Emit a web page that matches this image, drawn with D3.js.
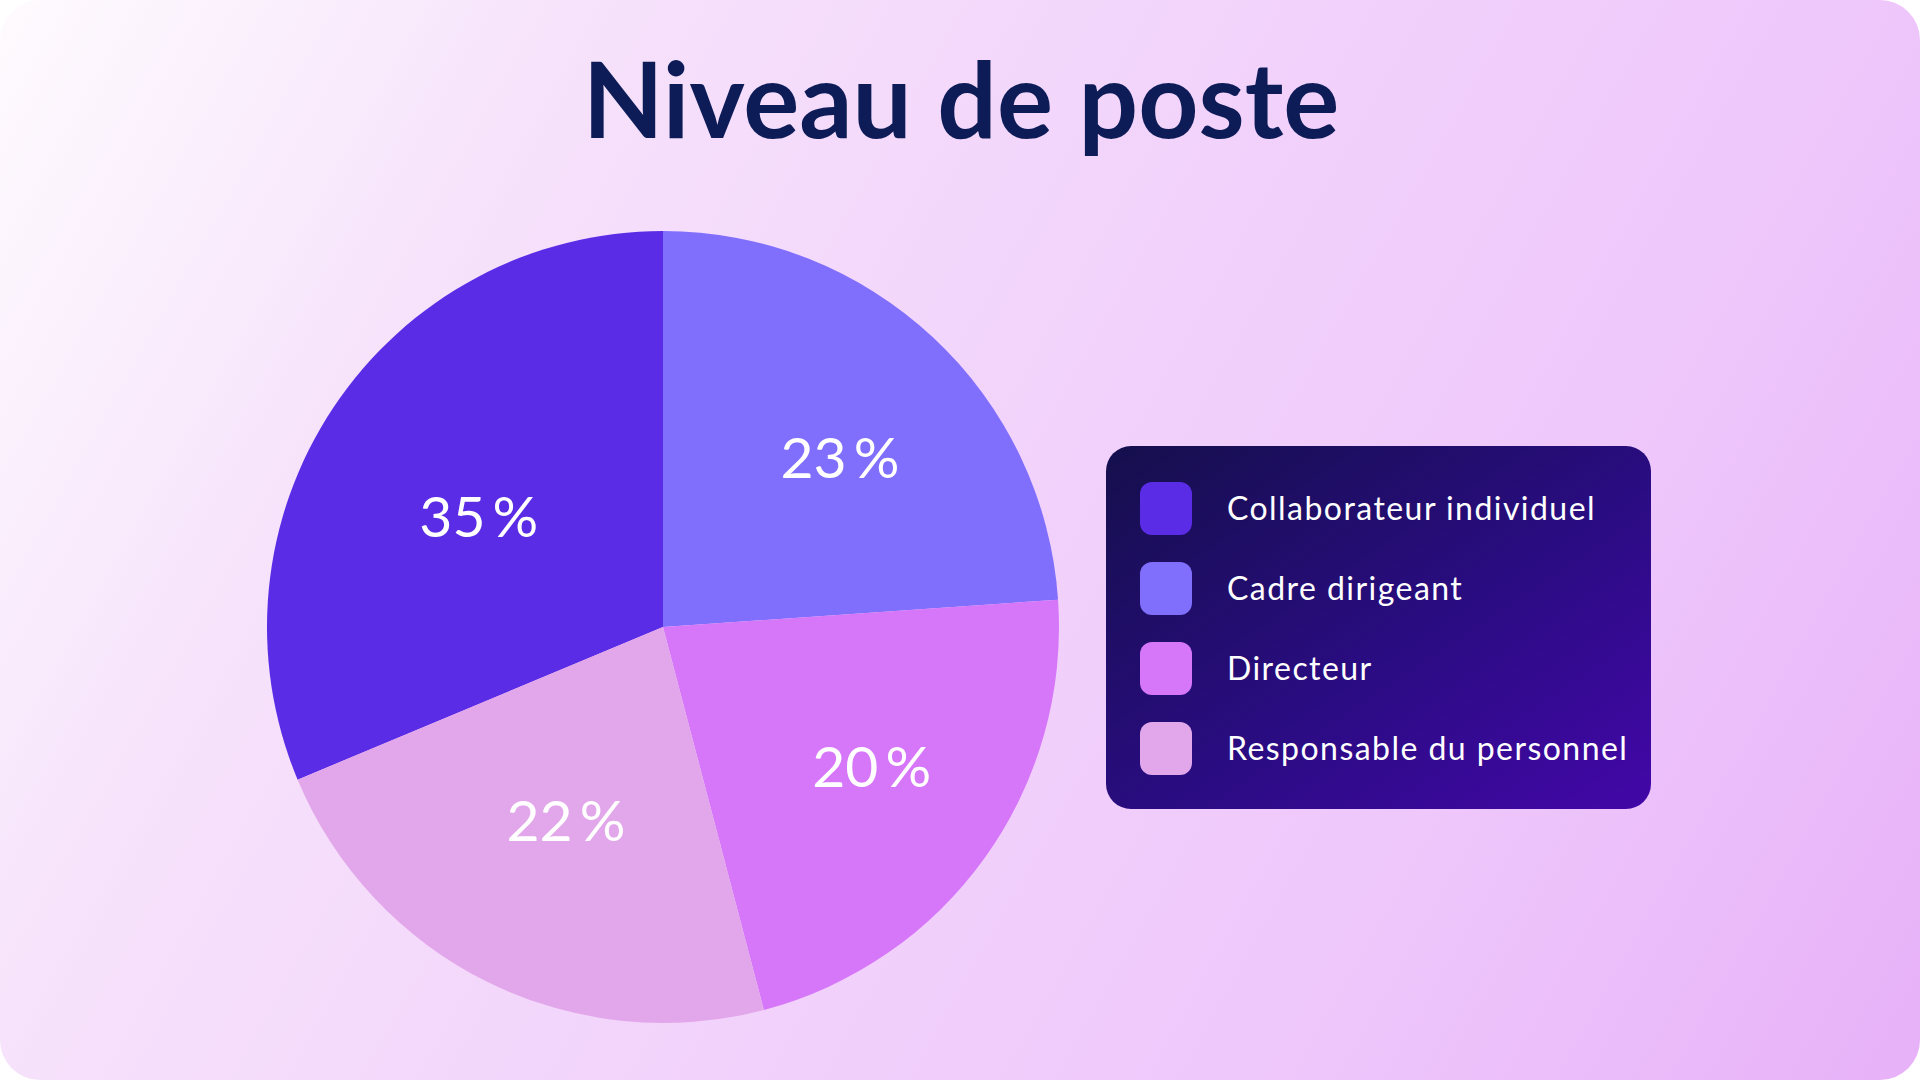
<!DOCTYPE html>
<html>
<head>
<meta charset="utf-8">
<script src="https://d3js.org/d3.v7.min.js"></script>
<style>
  body { margin: 0; background: #ffffff; }
  svg { display: block; }
  text { font-family: Lato, "Noto Sans", sans-serif; }
</style>
</head>
<body>
<div id="chart"></div>
<script>
// categories, in legend order
const categories = ["Collaborateur individuel", "Cadre dirigeant", "Directeur", "Responsable du personnel"];
// share of the circle each slice takes in the drawing
const sliceShares = [31.3, 23.9, 22.0, 22.8];
// percentages printed on the slices
const labelPercents = [35, 23, 20, 22];
const sliceColors = ["#5b2ce6", "#806efd", "#d676f9", "#e2a7ea"];

const width = 1920, height = 1080;
const cx = 663, cy = 627, radius = 396;
// where each label sits: distance from centre, and a small turn off the slice middle (degrees)
const labelRadius = [215, 245, 251, 216];
const labelTurn = [-2.6, 3.2, -1.9, 0.4];

const svg = d3.select("#chart").append("svg")
    .attr("width", width)
    .attr("height", height);

const defs = svg.append("defs");

// card background
const bg = defs.append("linearGradient")
    .attr("id", "bg")
    .attr("gradientUnits", "userSpaceOnUse")
    .attr("x1", 0).attr("y1", 0)
    .attr("x2", width).attr("y2", height);
bg.append("stop").attr("offset", 0).attr("stop-color", "#fefbfe");
bg.append("stop").attr("offset", 0.25).attr("stop-color", "#f6e1fb");
bg.append("stop").attr("offset", 0.5).attr("stop-color", "#f2d3fb");
bg.append("stop").attr("offset", 0.76).attr("stop-color", "#eec6fb");
bg.append("stop").attr("offset", 1).attr("stop-color", "#e7b1f8");

// legend box background
const lg = defs.append("linearGradient")
    .attr("id", "legendBg")
    .attr("x1", 0).attr("y1", 0)
    .attr("x2", 1).attr("y2", 1);
lg.append("stop").attr("offset", 0).attr("stop-color", "#150f4c");
lg.append("stop").attr("offset", 0.55).attr("stop-color", "#2a0c82");
lg.append("stop").attr("offset", 1).attr("stop-color", "#4307a8");

svg.append("rect")
    .attr("x", 0).attr("y", 0)
    .attr("width", width).attr("height", height)
    .attr("rx", 40)
    .attr("fill", "url(#bg)");

// title
svg.append("text")
    .attr("x", 961)
    .attr("y", 138)
    .attr("text-anchor", "middle")
    .attr("fill", "#0d1c57")
    .style("font-size", "105px")
    .style("font-weight", 700)
    .text("Niveau de poste");

// pie
const color = d3.scaleOrdinal().domain(categories).range(sliceColors);

const startAngle = -2 * Math.PI * sliceShares[0] / d3.sum(sliceShares);
const pie = d3.pie()
    .sort(null)
    .value(d => d.share)
    .startAngle(startAngle)
    .endAngle(startAngle + 2 * Math.PI);

const data = categories.map((c, i) => ({ name: c, share: sliceShares[i], label: labelPercents[i], i: i }));
const arcs = pie(data);

const arcGenerator = d3.arc()
    .innerRadius(0)
    .outerRadius(radius);

const g = svg.append("g")
    .attr("transform", `translate(${cx},${cy})`);

g.selectAll("path")
    .data(arcs)
    .join("path")
      .attr("d", arcGenerator)
      .attr("fill", d => color(d.data.name));

g.selectAll("text.pct")
    .data(arcs)
    .join("text")
      .attr("class", "pct")
      .attr("transform", function(d) {
        const a = (d.startAngle + d.endAngle) / 2 + labelTurn[d.data.i] * Math.PI / 180;
        const r = labelRadius[d.data.i];
        return `translate(${r * Math.sin(a)},${-r * Math.cos(a)})`;
      })
      .attr("dy", "0.36em")
      .attr("text-anchor", "middle")
      .attr("fill", "#ffffff")
      .style("font-size", "57px")
      .text(d => d.data.label + "\u2009%");

// legend
const legend = svg.append("g")
    .attr("transform", "translate(1106,446)");

legend.append("rect")
    .attr("width", 545)
    .attr("height", 363)
    .attr("rx", 25)
    .attr("fill", "url(#legendBg)");

const item = legend.selectAll("g.item")
    .data(categories)
    .join("g")
      .attr("class", "item")
      .attr("transform", (d, i) => `translate(0,${62 + i * 80})`);

item.append("rect")
    .attr("x", 34)
    .attr("y", -26)
    .attr("width", 52)
    .attr("height", 53)
    .attr("rx", 12)
    .attr("fill", d => color(d));

item.append("text")
    .attr("x", 121)
    .attr("y", 12)
    .attr("fill", "#ffffff")
    .style("font-size", "32px")
    .style("letter-spacing", "1.45px")
    .text(d => d);
</script>
</body>
</html>
